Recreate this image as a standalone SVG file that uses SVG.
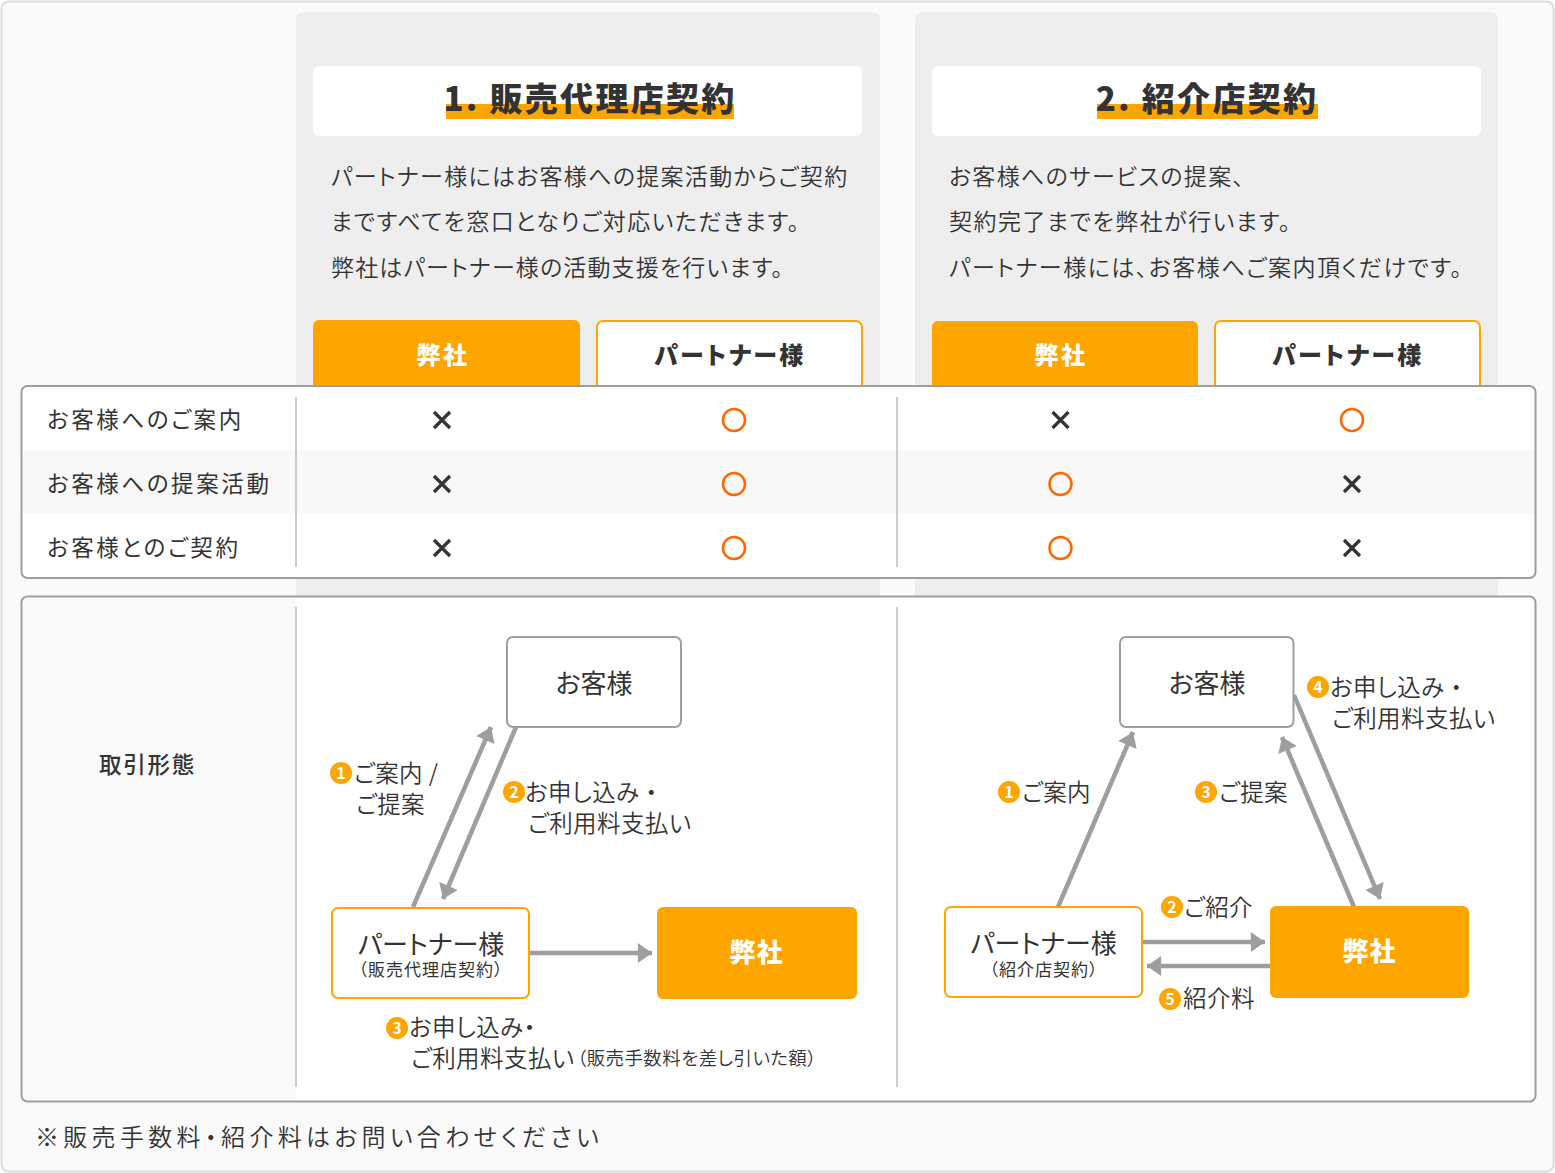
<svg xmlns="http://www.w3.org/2000/svg" width="1555" height="1173" viewBox="0 0 1555 1173">
<style>
text{font-family:"Noto Sans CJK JP","Noto Sans",sans-serif;fill:#333;font-feature-settings:"palt"}
.title{font-size:33px;font-weight:900;letter-spacing:2.3px;text-anchor:middle}
.body{font-size:23px;letter-spacing:1.5px;font-weight:350}
.hd{font-size:24px;font-weight:900;letter-spacing:2.5px;text-anchor:middle}
.w{fill:#fff}
.row{font-size:22.5px;letter-spacing:2.6px;font-weight:400}
.nm{font-size:26px;font-weight:400;text-anchor:middle}
.nb{font-size:26px;font-weight:900;text-anchor:middle;fill:#fff;letter-spacing:1px}
.sub{font-size:17px;font-weight:400;text-anchor:middle;letter-spacing:1px}
.lb{font-size:23.5px;font-weight:350;letter-spacing:.45px}
.sm{font-size:18.5px;font-weight:350;letter-spacing:.4px}
.num{font-size:16px;font-weight:700;text-anchor:middle;fill:#fff}
.badge{fill:#ffa500}
.conn{stroke:#9e9e9e;stroke-width:4.5;fill:none;marker-end:url(#ah)}
.div{stroke:#ccc;stroke-width:2}
.card{fill:#fff;stroke:#9e9e9e;stroke-width:2}
.po{fill:#fff;stroke:#ffa500;stroke-width:2}
.so{fill:#ffa500}
.x{stroke:#333;stroke-width:3.2;fill:none}
.o{stroke:#f60;stroke-width:2.5;fill:none}
</style>
<defs>
<marker id="ah" markerUnits="userSpaceOnUse" markerWidth="16" markerHeight="20" refX="12" refY="8.5" orient="auto" viewBox="0 0 12 17"><path d="M0 0L12 8.5L0 17z" fill="#9e9e9e"/></marker>
<path id="cx" class="x" d="M-8-8L8 8M8-8L-8 8"/>
<circle id="co" class="o" r="11"/>
</defs>
<rect x="1.5" y="1.5" width="1552" height="1170" rx="7" fill="#fafafa" stroke="#ddd" stroke-width="2"/>
<rect x="296" y="12" width="584" height="590" rx="8" fill="#eee"/>
<rect x="915" y="12" width="583" height="590" rx="8" fill="#eee"/>

<g id="plan1">
<rect x="313" y="66" width="549" height="70" rx="6" fill="#fff"/>
<rect x="446" y="104" width="288" height="15" fill="#ffa500"/>
<text class="title" x="590" y="111">1. 販売代理店契約</text>
<text class="body" x="331" y="185" style="letter-spacing:1.3px">パートナー様にはお客様への提案活動からご契約</text>
<text class="body" x="331" y="230">まですべてを窓口となりご対応いただきます。</text>
<text class="body" x="331" y="276" style="letter-spacing:1.15px">弊社はパートナー様の活動支援を行います。</text>
<path class="so" d="M313 386V326a6 6 0 0 1 6-6H574a6 6 0 0 1 6 6V386z"/>
<text class="hd w" x="443" y="364">弊社</text>
<path class="po" d="M597 387V327a6 6 0 0 1 6-6H856a6 6 0 0 1 6 6V387z"/>
<text class="hd" x="730" y="364">パートナー様</text>
</g>
<g id="plan2">
<rect x="932" y="66" width="549" height="70" rx="6" fill="#fff"/>
<rect x="1097" y="104" width="221" height="15" fill="#ffa500"/>
<text class="title" x="1207" y="111">2. 紹介店契約</text>
<text class="body" x="949" y="185" style="letter-spacing:1.3px">お客様へのサービスの提案、</text>
<text class="body" x="949" y="230">契約完了までを弊社が行います。</text>
<text class="body" x="949" y="276">パートナー様には、お客様へご案内頂くだけです。</text>
<path class="so" d="M932 386V327a6 6 0 0 1 6-6H1192a6 6 0 0 1 6 6V386z"/>
<text class="hd w" x="1061" y="364">弊社</text>
<path class="po" d="M1215 387V327a6 6 0 0 1 6-6H1474a6 6 0 0 1 6 6V387z"/>
<text class="hd" x="1348" y="364">パートナー様</text>
</g>

<g id="table">
<rect x="21.5" y="386" width="1514" height="192" rx="6" fill="#fff" stroke="#9e9e9e" stroke-width="2"/>
<rect x="23" y="450" width="1511" height="64" fill="#f8f8f8"/>
<path class="div" d="M296 397V567M897 397V567"/>
<text class="row" x="47" y="428">お客様へのご案内</text>
<text class="row" x="47" y="492">お客様への提案活動</text>
<text class="row" x="47" y="556">お客様とのご契約</text>
<use href="#cx" x="442" y="420"/><use href="#co" x="734" y="420"/><use href="#cx" x="1060.5" y="420"/><use href="#co" x="1352" y="420"/>
<use href="#cx" x="442" y="484"/><use href="#co" x="734" y="484"/><use href="#co" x="1060.5" y="484"/><use href="#cx" x="1352" y="484"/>
<use href="#cx" x="442" y="548"/><use href="#co" x="734" y="548"/><use href="#co" x="1060.5" y="548"/><use href="#cx" x="1352" y="548"/>
</g>

<rect x="21.5" y="596.5" width="1514" height="505" rx="6" fill="#fff" stroke="#9e9e9e" stroke-width="2"/>
<path d="M296 598H28a5 5 0 0 0-5 5V1095a5 5 0 0 0 5 5H296z" fill="#f9f9f9"/>
<path class="div" d="M296 607V1087M897 607V1087"/>
<text x="147.5" y="773" style="font-size:22.5px;font-weight:500;letter-spacing:1.8px;text-anchor:middle">取引形態</text>

<g id="connectors">
<path class="conn" d="M413 907L491 727"/>
<path class="conn" d="M516 727L443 899"/>
<path class="conn" d="M529 953H652"/>
<path class="conn" d="M1058 907L1133 732"/>
<path class="conn" d="M1354 907L1282 737"/>
<path class="conn" d="M1294 695L1380 899"/>
<path class="conn" d="M1142 942H1265"/>
<path class="conn" d="M1271 966H1147"/>
</g>

<g id="customer1"><rect class="card" x="507" y="637" width="174" height="90" rx="6"/><text class="nm" x="594" y="693">お客様</text></g>
<g id="partner1"><rect class="po" x="332" y="908" width="197" height="90" rx="6"/><text class="nm" x="431" y="954">パートナー様</text><text class="sub" x="431" y="976">（販売代理店契約）</text></g>
<g id="self1"><rect class="so" x="657" y="907" width="200" height="92" rx="6"/><text class="nb" x="756.5" y="962">弊社</text></g>
<g id="customer2"><rect class="card" x="1120" y="637" width="173.5" height="90" rx="6"/><text class="nm" x="1207" y="693">お客様</text></g>
<g id="partner2"><rect class="po" x="945" y="907" width="197" height="90" rx="6"/><text class="nm" x="1043.5" y="953">パートナー様</text><text class="sub" x="1044" y="976">（紹介店契約）</text></g>
<g id="self2"><rect class="so" x="1270" y="906" width="199" height="92" rx="6"/><text class="nb" x="1369.5" y="961">弊社</text></g>

<g id="labels">
<circle class="badge" cx="341" cy="773" r="11"/><text class="num" x="341" y="779">1</text>
<text class="lb" x="354" y="782">ご案内 /</text><text class="lb" x="356" y="813">ご提案</text>
<circle class="badge" cx="514" cy="792" r="11"/><text class="num" x="514" y="798">2</text>
<text class="lb" x="525" y="801">お申し込み ・</text><text class="lb" x="528" y="832">ご利用料支払い</text>
<circle class="badge" cx="397" cy="1028" r="11"/><text class="num" x="397" y="1034">3</text>
<text class="lb" x="409" y="1036">お申し込み・</text><text class="lb" x="411" y="1067">ご利用料支払い</text><text class="sm" x="577" y="1065">（販売手数料を差し引いた額）</text>
<circle class="badge" cx="1009" cy="792" r="11"/><text class="num" x="1009" y="798">1</text>
<text class="lb" x="1022" y="801">ご案内</text>
<circle class="badge" cx="1206" cy="792" r="11"/><text class="num" x="1206" y="798">3</text>
<text class="lb" x="1219" y="801">ご提案</text>
<circle class="badge" cx="1318" cy="687" r="11"/><text class="num" x="1318" y="693">4</text>
<text class="lb" x="1330" y="696">お申し込み ・</text><text class="lb" x="1332" y="727">ご利用料支払い</text>
<circle class="badge" cx="1172" cy="907" r="11"/><text class="num" x="1172" y="913">2</text>
<text class="lb" x="1184" y="916">ご紹介</text>
<circle class="badge" cx="1170" cy="999" r="11"/><text class="num" x="1170" y="1005">5</text>
<text class="lb" x="1183" y="1007">紹介料</text>
</g>
<text x="35" y="1146" style="font-size:24px;letter-spacing:4.3px;font-weight:350">※販売手数料・紹介料はお問い合わせください</text>
</svg>
